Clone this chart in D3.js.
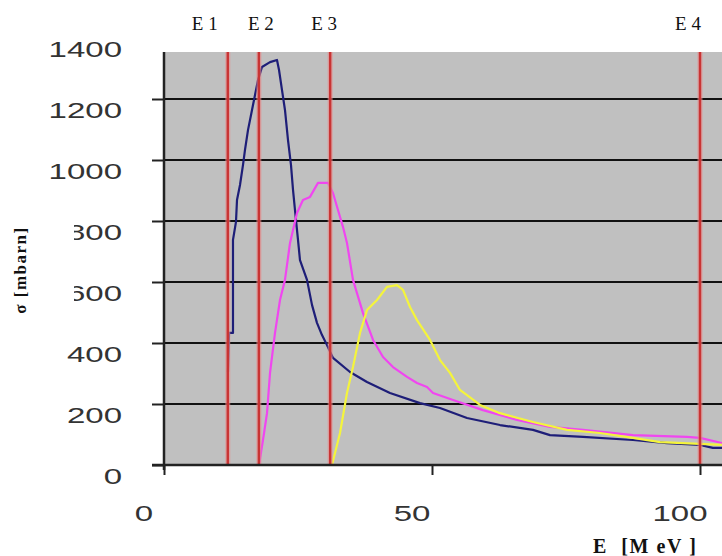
<!DOCTYPE html>
<html><head><meta charset="utf-8">
<script src="https://cdn.jsdelivr.net/npm/d3@7"></script>
<style>body{margin:0;background:#fff}</style>
</head><body><svg id="c" width="722" height="556"></svg>
<script>
// ---- data (E in MeV, sigma in mbarn) ----
const blueE     = [11.94,12.13,12.87,12.87,13.43,13.62,14.18,14.74,15.11,15.67,16.42,16.98,17.54,18.28,19.78,21.08,21.46,22.01,22.57,23.13,23.69,24.07,24.44,25.0,25.37,26.68,27.61,28.54,29.48,30.41,31.53,34.7,37.87,42.16,47.76,51.49,56.53,62.69,68.84,72.01,78.17,87.5,93.84,100,102.4,104.1];
const blueSigma = [305,433,433,738,797,869,918,984,1033,1098,1164,1213,1262,1305,1321,1328,1295,1230,1164,1066,984,902,836,738,672,607,525,466,426,393,351,305,272,236,203,187,154,131,115,98,92,82,72,66,56,56];
const magentaE     = [17.72,18.47,19.22,19.78,20.71,21.64,22.57,23.51,24.81,25.93,27.24,28.73,30.6,31.53,32.46,33.4,34.14,35.26,37.13,39.0,40.86,42.72,45.34,47.2,49.07,50.19,53.92,59.51,65.86,72.01,78.17,87.5,97.57,100,104.1];
const magentaSigma = [0,82,170,302,433,541,607,728,826,869,879,925,925,892,836,780,728,607,498,410,354,321,289,269,256,236,213,180,148,125,115,98,92,89,72];
const yellowE     = [31.34,32.84,34.14,35.26,36.57,37.87,39.74,41.6,43.47,44.59,45.9,47.2,49.63,51.49,53.36,55.22,58.96,62.69,68.84,75.19,81.34,87.5,92.54,96.83,104.1];
const yellowSigma = [0,105,236,321,433,508,541,584,590,574,518,475,410,344,302,246,197,170,141,115,105,89,75,72,66];
const thresholdE      = [11.9,17.7,31.0,100];
const thresholdLabels = ["E 1","E 2","E 3","E 4"];
const yTicks = [0,200,400,600,800,1000,1200,1400];
const xTicks = [0,50,100];
const yTitle = "σ [mbarn]";
const xTitle = "E  [M eV ]";

// ---- layout ----
const L = 164, R = 722, T = 52, B = 465;
const svg = d3.select("#c");
const x = d3.scaleLinear().domain([0,100]).range([164,700]);
const y = d3.scaleLinear().domain([0,1400]).range([465,38]);

svg.append("rect").attr("x",L).attr("y",T).attr("width",R-L).attr("height",B-T).attr("fill","#c0c0c0");

svg.append("defs").append("clipPath").attr("id","clip")
  .append("rect").attr("x",L).attr("y",T).attr("width",R-L).attr("height",B-T+14);

// grid
svg.append("g").selectAll("line").data(yTicks.filter(v=>v>0 && y(v)>T)).join("line")
  .attr("x1",L).attr("x2",R).attr("y1",d=>y(d)).attr("y2",d=>y(d))
  .attr("stroke","#111").attr("stroke-width",2);

// curves
const series = [
  {E:blueE, S:blueSigma, c:"#1e1e78"},
  {E:magentaE, S:magentaSigma, c:"#f046f0"},
  {E:yellowE, S:yellowSigma, c:"#f4f43c"}
];
const line = d3.line().x(d=>x(d[0])).y(d=>y(d[1]));
const cg = svg.append("g").attr("clip-path","url(#clip)");
series.forEach(s=>{
  cg.append("path").datum(s.E.map((e,i)=>[e,s.S[i]]))
    .attr("d",line).attr("fill","none").attr("stroke",s.c).attr("stroke-width",2.2)
    .attr("stroke-linejoin","round");
});

// threshold lines
const tg = svg.append("g");
tg.selectAll("line.h").data(thresholdE).join("line").attr("class","h")
  .attr("x1",d=>x(d)).attr("x2",d=>x(d)).attr("y1",T).attr("y2",B)
  .attr("stroke","#eb8a8a").attr("stroke-width",5).attr("opacity",0.6);
tg.selectAll("line.m").data(thresholdE).join("line").attr("class","m")
  .attr("x1",d=>x(d)).attr("x2",d=>x(d)).attr("y1",T).attr("y2",B)
  .attr("stroke","#c83434").attr("stroke-width",2.4);
const labelShift = [-23, 2, -6, -12];
tg.selectAll("text").data(thresholdLabels).join("text")
  .attr("x",(d,i)=>x(thresholdE[i])+labelShift[i]).attr("y",30)
  .attr("text-anchor","middle").attr("font-family","Liberation Serif, serif")
  .attr("font-size",19).attr("fill","#111").style("white-space","pre").text(d=>d);

// axes
const ya = svg.append("g").attr("transform",`translate(${L},0)`)
  .call(d3.axisLeft(y).tickValues(yTicks.filter(v=>y(v)>=T)).tickSize(12).tickFormat(""));
ya.select(".domain").remove();
ya.selectAll(".tick line").attr("stroke","#222").attr("stroke-width",2);
svg.append("line").attr("x1",L).attr("x2",L).attr("y1",T).attr("y2",B+5).attr("stroke","#222").attr("stroke-width",2.5);

const xa = svg.append("g").attr("transform",`translate(0,${B})`)
  .call(d3.axisBottom(x).tickValues(xTicks).tickSize(10).tickFormat(""));
xa.select(".domain").remove();
xa.selectAll(".tick line").attr("stroke","#222").attr("stroke-width",2);
svg.append("line").attr("x1",152).attr("x2",R).attr("y1",B).attr("y2",B).attr("stroke","#222").attr("stroke-width",2.5);

// tick labels (wide raster font look)
svg.append("g").selectAll("text").data(yTicks).join("text")
  .attr("transform",d=>`translate(122,${y(d)+11}) scale(1.5,1)`)
  .attr("text-anchor","end").attr("dy","0.36em")
  .attr("font-family","Liberation Sans, Arial, sans-serif").attr("font-size",22)
  .attr("fill","#333").text(d=>d);
svg.append("g").selectAll("text").data(xTicks).join("text")
  .attr("transform",d=>`translate(${x(d)-20},513) scale(1.5,1)`)
  .attr("text-anchor","middle").attr("dy","0.36em")
  .attr("font-family","Liberation Sans, Arial, sans-serif").attr("font-size",22)
  .attr("fill","#333").text(d=>d);

// axis titles
svg.append("rect").attr("x",0).attr("y",212).attr("width",74).attr("height",114).attr("fill","#fff");
svg.append("text").attr("transform","translate(26,270) rotate(-90)")
  .attr("text-anchor","middle").attr("font-family","Liberation Serif, serif")
  .attr("font-weight","bold").attr("font-size",17).attr("letter-spacing",1.5)
  .attr("fill","#111").text(yTitle);
svg.append("text").attr("x",593).attr("y",553)
  .attr("font-family","Liberation Serif, serif").attr("font-weight","bold")
  .attr("font-size",20).attr("letter-spacing",1.6).style("white-space","pre")
  .attr("fill","#111").text(xTitle);
</script></body></html>
